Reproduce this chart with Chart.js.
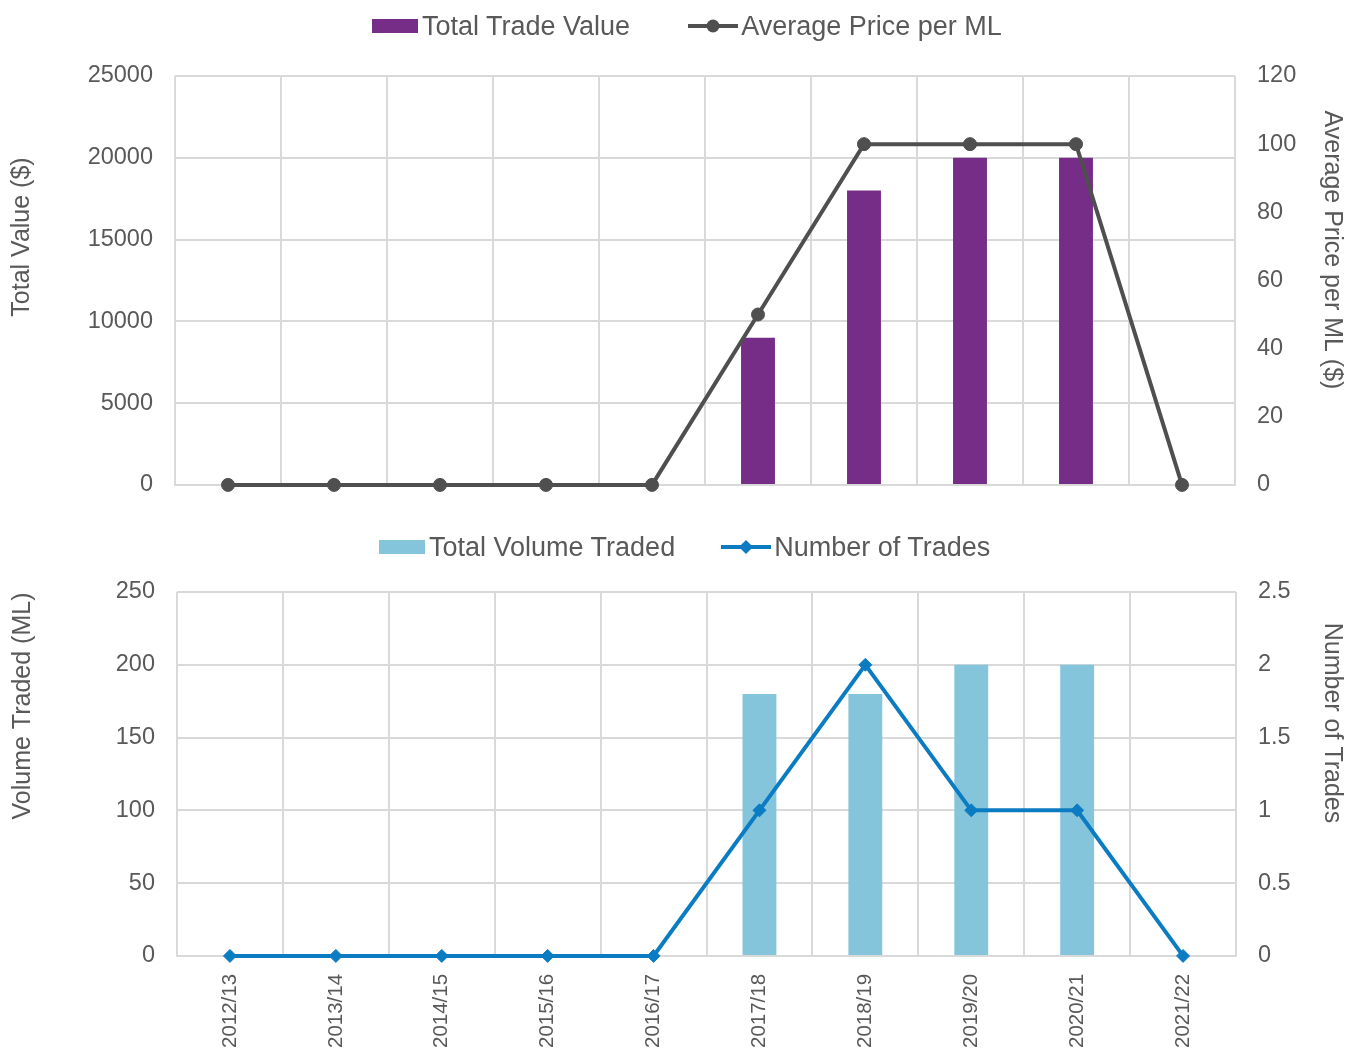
<!DOCTYPE html>
<html>
<head>
<meta charset="utf-8">
<title>Trade value and volume</title>
<script src="https://cdn.jsdelivr.net/npm/chart.js@4.4.1/dist/chart.umd.min.js"></script>
<style>
  html, body { margin: 0; padding: 0; background: #fff; overflow: hidden; }
  #page { position: relative; width: 1348px; height: 1048px; overflow: hidden; font-family: "Liberation Sans", Arial, sans-serif; }
  canvas { position: absolute; left: 0; }
  #valueChart { top: 0; }
  #volumeChart { top: 520px; }
  .legend {
    position: absolute; width: 980px; height: 30px;
    display: flex; justify-content: flex-start; align-items: center;
    color: #595959; font-size: 27px; z-index: 2;
  }
  #valueLegend { top: 11px; left: 372px; gap: 58px; }
  #volumeLegend { top: 532px; left: 379px; gap: 46px; }
  .legend .item { display: flex; align-items: center; white-space: nowrap; }
  .legend .box { display: inline-block; width: 46px; height: 14px; margin-right: 4px; }
  .legend .line { position: relative; display: inline-block; width: 50px; height: 4px; margin-right: 3px; }
  .legend .line i { position: absolute; left: 50%; top: 50%; width: 13px; height: 13px; border-radius: 50%; transform: translate(-50%, -50%); }
  .legend .line i.diamond { width: 10px; height: 10px; border-radius: 0; transform: translate(-50%, -50%) rotate(45deg); }
</style>
</head>
<body>
<div id="page">
  <canvas id="valueChart" width="1348" height="521"></canvas>
  <canvas id="volumeChart" width="1348" height="546"></canvas>
  <div id="valueLegend" class="legend"></div>
  <div id="volumeLegend" class="legend"></div>
</div>
<script>
const seasons = ["2012/13", "2013/14", "2014/15", "2015/16", "2016/17", "2017/18", "2018/19", "2019/20", "2020/21", "2021/22"];

const totalTradeValue = [0, 0, 0, 0, 0, 9000, 18000, 20000, 20000, 0];
const avgPricePerML = [0, 0, 0, 0, 0, 50, 100, 100, 100, 0];

const totalVolumeTraded = [0, 0, 0, 0, 0, 180, 180, 200, 200, 0];
const numberOfTrades = [0, 0, 0, 0, 0, 1, 2, 1, 1, 0];

// axis ranges: [min, max, step]
const valueAxis = [0, 25000, 5000];
const priceAxis = [0, 120, 20];
const volumeAxis = [0, 250, 50];
const tradesAxis = [0, 2.5, 0.5];

const TEXT = "#595959";
const GRID = "#d9d9d9";
const FONT = '"Liberation Sans", Arial, sans-serif';

Chart.defaults.font.family = FONT;
Chart.defaults.color = TEXT;

// builds the html legend from the datasets of a chart
const htmlLegend = {
  id: "htmlLegend",
  afterUpdate(chart, args, opts) {
    const box = document.getElementById(opts.containerID);
    if (!box) return;
    box.innerHTML = "";
    chart.data.datasets.forEach((ds) => {
      const item = document.createElement("div");
      item.className = "item";
      const icon = document.createElement("span");
      if (ds.type === "line") {
        icon.className = "line";
        icon.style.background = ds.borderColor;
        const mark = document.createElement("i");
        if (ds.pointStyle === "rectRot") mark.className = "diamond";
        mark.style.background = ds.borderColor;
        icon.appendChild(mark);
      } else {
        icon.className = "box";
        icon.style.background = ds.backgroundColor;
      }
      const label = document.createElement("span");
      label.textContent = ds.label;
      item.append(icon, label);
      box.appendChild(item);
    });
  }
};

// vertical axis titles, placed where the original has them
const sideTitles = {
  id: "sideTitles",
  afterDraw(chart, args, opts) {
    const ctx = chart.ctx;
    opts.items.forEach((t) => {
      ctx.save();
      ctx.translate(t.x, t.y);
      ctx.rotate(t.side === "left" ? -Math.PI / 2 : Math.PI / 2);
      ctx.font = `25px ${FONT}`;
      ctx.fillStyle = TEXT;
      ctx.textAlign = "center";
      ctx.textBaseline = "middle";
      ctx.fillText(t.text, 0, 0);
      ctx.restore();
    });
  }
};

function yAxis(range, position, width, drawGrid) {
  return {
    position,
    min: range[0],
    max: range[1],
    ticks: {
      stepSize: range[2],
      padding: 22,
      color: TEXT,
      font: { size: 23.5 },
      callback: (v) => String(v)
    },
    grid: { color: GRID, lineWidth: 2, drawTicks: false, drawOnChartArea: drawGrid },
    border: { display: false },
    afterFit(scale) {
      scale.width = width;
    }
  };
}

function xAxis(showLabels) {
  return {
    grid: { color: GRID, lineWidth: 2, drawTicks: false },
    border: { color: GRID, width: 2 },
    ticks: {
      display: showLabels,
      autoSkip: false,
      minRotation: 90,
      maxRotation: 90,
      padding: 18,
      color: TEXT,
      font: { size: 20.5 }
    }
  };
}

new Chart(document.getElementById("valueChart"), {
  type: "bar",
  data: {
    labels: seasons,
    datasets: [
      {
        label: "Total Trade Value",
        data: totalTradeValue,
        backgroundColor: "#762d88",
        yAxisID: "y",
        order: 2,
        categoryPercentage: 1,
        barPercentage: 0.32
      },
      {
        type: "line",
        label: "Average Price per ML",
        data: avgPricePerML,
        borderColor: "#4f4f4f",
        backgroundColor: "#4f4f4f",
        borderWidth: 4,
        pointStyle: "circle",
        pointRadius: 6.5,
        pointBorderWidth: 1,
        yAxisID: "y1",
        order: 1,
        clip: false
      }
    ]
  },
  options: {
    responsive: false,
    animation: false,
    layout: { padding: { top: 76, bottom: 15, left: 0, right: 0 } },
    plugins: {
      legend: { display: false },
      tooltip: { enabled: false },
      htmlLegend: { containerID: "valueLegend" },
      sideTitles: {
        items: [
          { side: "left", text: "Total Value ($)", x: 22, y: 237 },
          { side: "right", text: "Average Price per ML ($)", x: 1332, y: 250 }
        ]
      }
    },
    scales: {
      x: xAxis(false),
      y: yAxis(valueAxis, "left", 175, true),
      y1: yAxis(priceAxis, "right", 113, false)
    }
  },
  plugins: [htmlLegend, sideTitles]
});

new Chart(document.getElementById("volumeChart"), {
  type: "bar",
  data: {
    labels: seasons,
    datasets: [
      {
        label: "Total Volume Traded",
        data: totalVolumeTraded,
        backgroundColor: "#85c5dc",
        yAxisID: "y",
        order: 2,
        categoryPercentage: 1,
        barPercentage: 0.32
      },
      {
        type: "line",
        label: "Number of Trades",
        data: numberOfTrades,
        borderColor: "#0c7cc2",
        backgroundColor: "#0c7cc2",
        borderWidth: 4,
        pointStyle: "rectRot",
        pointRadius: 6.5,
        pointBorderWidth: 1,
        yAxisID: "y1",
        order: 1,
        clip: false
      }
    ]
  },
  options: {
    responsive: false,
    animation: false,
    layout: { padding: { top: 72, bottom: 0, left: 0, right: 0 } },
    plugins: {
      legend: { display: false },
      tooltip: { enabled: false },
      htmlLegend: { containerID: "volumeLegend" },
      sideTitles: {
        items: [
          { side: "left", text: "Volume Traded (ML)", x: 23, y: 186 },
          { side: "right", text: "Number of Trades", x: 1332, y: 203 }
        ]
      }
    },
    scales: {
      x: xAxis(true),
      y: yAxis(volumeAxis, "left", 177, true),
      y1: yAxis(tradesAxis, "right", 112, false)
    }
  },
  plugins: [htmlLegend, sideTitles]
});
</script>
</body>
</html>
